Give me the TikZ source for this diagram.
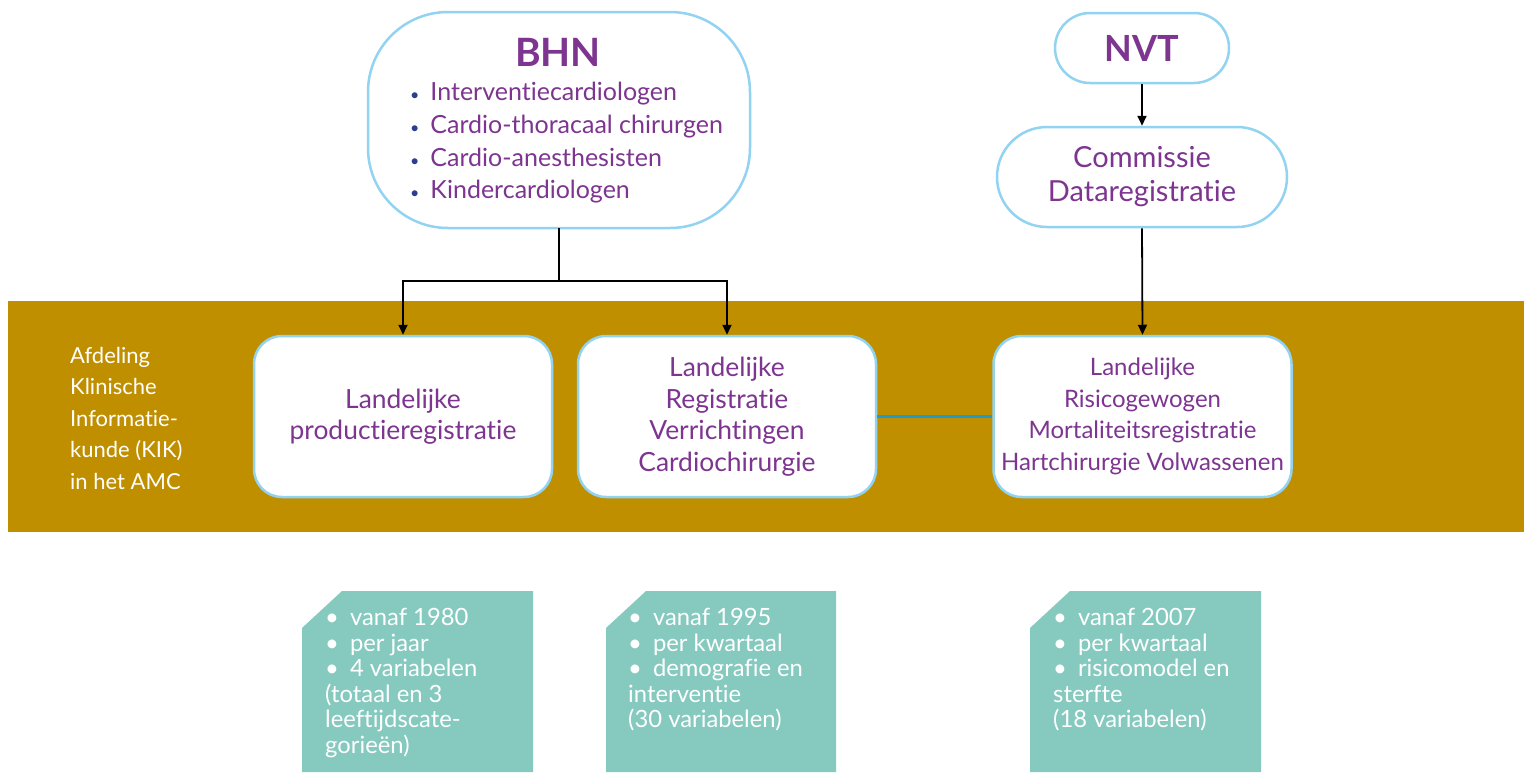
\documentclass[tikz,border=0pt]{standalone}
\usepackage{fontspec}
\setmainfont{Lato}[Ligatures={NoCommon,NoContextual}]
\usetikzlibrary{arrows.meta}
\definecolor{gold}{HTML}{BF8F00}
\definecolor{lblue}{HTML}{92D3F2}
\definecolor{purp}{HTML}{7D3590}
\definecolor{dotblue}{HTML}{2A3F8F}
\definecolor{teal}{HTML}{85C9BF}
\definecolor{linkblue}{HTML}{1C9AD6}
\tikzset{
  orgbox/.style={draw=lblue, line width=2.5pt, fill=white, text=purp, align=center, inner sep=0pt},
  regbox/.style={orgbox, rounded corners=28pt, minimum width=298pt, minimum height=161pt, font=\fontsize{26.4}{31.5}\selectfont},
  regboxs/.style={regbox, font=\fontsize{24}{31.5}\selectfont},
  conn/.style={line width=1.8pt, black},
  arr/.style={conn, -{Triangle[length=10pt,width=9pt]}},
  tealtext/.style={text=white, align=left, anchor=north west, inner sep=0pt, font=\fontsize{23.8}{25.6}\selectfont},
}
\newcommand{\tb}{\textbullet\hspace{11pt}}
\newcommand{\bb}{{\color{dotblue}\fontsize{16}{16}\selectfont\textbullet}\hspace{11pt}}
\begin{document}
\begin{tikzpicture}[x=1pt,y=-1pt]
\useasboundingbox (0,0) rectangle (1524,772);
% band
\fill[gold] (8,301) rectangle (1524,532);
% top boxes
\draw[draw=lblue, line width=2.5pt, fill=white, rounded corners=80pt] (368,12) rectangle (750,228);
\node[inner sep=0pt, minimum width=382pt, minimum height=216pt] (bhn) at (559,120) {};
\node[text=purp, font=\fontsize{39}{39}\selectfont\bfseries] (bhnt) at (558,52) {BHN};
\node[text=purp, align=left, anchor=north west, inner sep=0pt, font=\fontsize{25}{32.7}\selectfont] (bhnl) at (410,82)
  {\bb Interventiecardiologen\\ \bb Cardio-thoracaal chirurgen\\ \bb Cardio-anesthesisten\\ \bb Kindercardiologen};
\node[orgbox, rounded corners=35pt, minimum width=174pt, minimum height=70pt, font=\fontsize{36}{36}\selectfont\bfseries] (nvt) at (1142,48) {NVT};
\node[orgbox, rounded corners=50pt, minimum width=290pt, minimum height=100pt, font=\fontsize{29}{34}\selectfont] (cd) at (1142,177) {Commissie\\Dataregistratie};
% band boxes
\node[regbox] (b1) at (403,416.5) {Landelijke\\productieregistratie};
\node[regbox] (b2) at (727,416.5) {Landelijke\\Registratie\\Verrichtingen\\Cardiochirurgie};
\node[regboxs] (b3) at (1142.5,416.5) {Landelijke\\Risicogewogen\\Mortaliteitsregistratie\\Hartchirurgie Volwassenen};
\node[text=white, align=left, anchor=west, inner sep=0pt, font=\fontsize{22}{31.5}\selectfont] (kik) at (70,418)
  {Afdeling\\Klinische\\Informatie-\\kunde (KIK)\\in het AMC};
% connectors
\coordinate (j) at (bhn.south |- 0,281);
\draw[conn] (bhn.south) -- (j);
\draw[arr] (j) -| (b1.north);
\draw[arr] (j) -| (b2.north);
\draw[arr] (nvt.south) -- (cd.north);
\draw[arr] (cd.south) -- (b3.north);
\draw[linkblue, line width=3pt] (b2.east) -- (b3.west);
% teal boxes
\fill[teal] (302,628) -- (342,591) -- (533,591) -- (533,772) -- (302,772) -- cycle;
\fill[teal] (606,628) -- (646,591) -- (836,591) -- (836,772) -- (606,772) -- cycle;
\fill[teal] (1030,628) -- (1070,591) -- (1261,591) -- (1261,772) -- (1030,772) -- cycle;
\node[tealtext] (t1) at (325,608) {\tb vanaf 1980\\ \tb per jaar\\ \tb 4 variabelen\\(totaal en 3\\leeftijdscate-\\gorieën)};
\node[tealtext] (t2) at (628,608) {\tb vanaf 1995\\ \tb per kwartaal\\ \tb demografie en\\interventie\\(30 variabelen)};
\node[tealtext] (t3) at (1053,608) {\tb vanaf 2007\\ \tb per kwartaal\\ \tb risicomodel en\\sterfte\\(18 variabelen)};
\end{tikzpicture}
\end{document}
